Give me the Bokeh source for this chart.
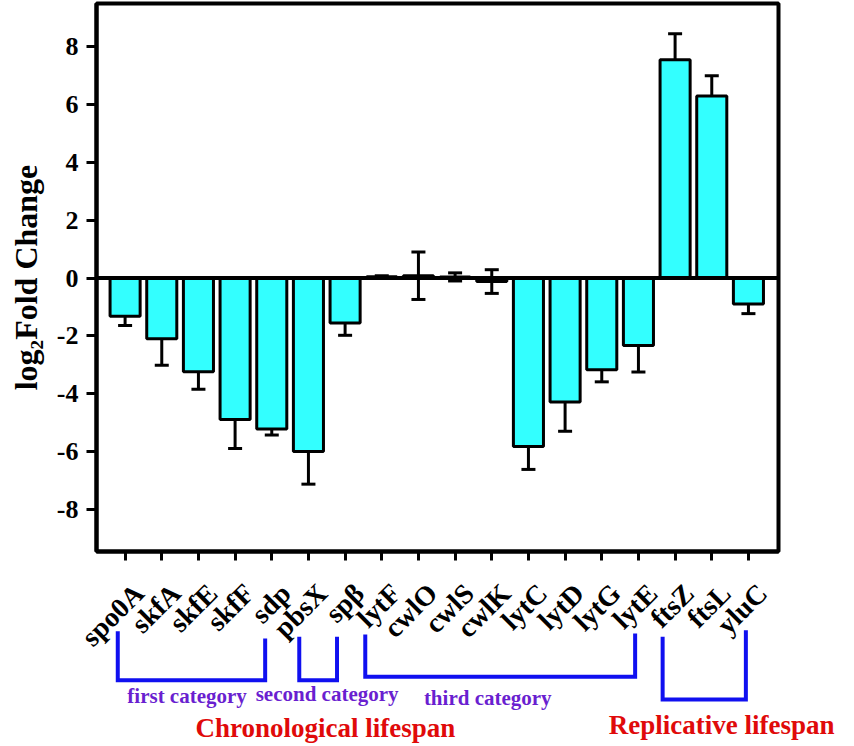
import math
from bokeh.plotting import figure
from bokeh.models import (ColumnDataSource, Range1d, FixedTicker, Whisker, TeeHead,
                          Span, LinearAxis)
from bokeh.core.properties import value
from bokeh.embed import file_html
from bokeh.resources import INLINE

# ---- data ----
genes = ["spo0A", "skfA", "skfE", "skfF", "sdp", "pbsX", "spβ", "lytF", "cwlO",
         "cwlS", "cwlK", "lytC", "lytD", "lytG", "lytE", "ftsZ", "ftsL", "yluC"]
log2fc = [-1.32, -2.10, -3.24, -4.89, -5.22, -6.00, -1.55, 0.05, 0.08,
          0.04, -0.12, -5.83, -4.29, -3.17, -2.33, 7.55, 6.30, -0.90]
err = [0.32, 0.92, 0.61, 1.01, 0.21, 1.13, 0.43, 0.03, 0.82,
       0.14, 0.41, 0.79, 1.01, 0.42, 0.92, 0.90, 0.70, 0.33]
y_ticks = [-8, -6, -4, -2, 0, 2, 4, 6, 8]
y_tick_labels = ["-8", "-6", "-4", "-2", "0", "2", "4", "6", "8"]

category_names = ["first category", "second category", "third category"]
lifespan_names = ["Chronological lifespan", "Replicative lifespan"]

# ---- layout constants ----
FONT = "Liberation Serif"
CYAN = "#33FFFF"
BLUE = "#1010F0"
PURPLE = "#6A1FD0"
RED = "#E00A0A"

W = 838
H1 = 669
LEFT, RIGHT, TOP, BOTTOM = 96, 60, 3, 118
X0, X1 = -0.78, 17.82
Y0, Y1 = -9.46, 9.50
LABEL_SHIFT_PX = 14

idx = list(range(len(genes)))
src = ColumnDataSource(dict(
    x=idx, top=log2fc,
    upper=[v + e for v, e in zip(log2fc, err)],
    lower=[v - e for v, e in zip(log2fc, err)],
))

units_per_px = (X1 - X0) / (W - LEFT - RIGHT)
shift = LABEL_SHIFT_PX * units_per_px

p = figure(width=W, height=H1, output_backend="svg", toolbar_location=None,
           x_range=Range1d(X0, X1), y_range=Range1d(Y0, Y1),
           min_border_left=LEFT, min_border_top=TOP, min_border_right=RIGHT,
           min_border_bottom=BOTTOM)
p.extra_x_ranges = {"labels": Range1d(X0 - shift, X1 - shift)}
p.background_fill_color = "white"
p.border_fill_color = "white"
p.outline_line_color = "black"
p.outline_line_width = 4
p.xgrid.visible = False
p.ygrid.visible = False

p.vbar(x="x", top="top", bottom=0, width=0.82, source=src,
       fill_color=CYAN, line_color="black", line_width=3)

p.add_layout(Span(location=0, dimension="width", line_color="black", line_width=4))

p.add_layout(Whisker(base="x", upper="upper", lower="lower", source=src,
                     line_color="black", line_width=3,
                     upper_head=TeeHead(size=14, line_width=3, line_color="black"),
                     lower_head=TeeHead(size=14, line_width=3, line_color="black")))

# y axis
ya = p.yaxis[0]
ya.ticker = FixedTicker(ticks=y_ticks)
ya.major_label_overrides = dict(zip(y_ticks, y_tick_labels))
ya.axis_label = "log₂Fold Change"
ya.axis_label_text_font = FONT
ya.axis_label_text_font_style = "bold"
ya.axis_label_text_font_size = "32px"
ya.axis_label_text_color = "black"
ya.axis_label_standoff = 10
ya.major_label_text_font = FONT
ya.major_label_text_font_style = "bold"
ya.major_label_text_font_size = "26px"
ya.major_label_text_color = "black"
ya.major_label_standoff = 8
ya.major_tick_out = 10
ya.major_tick_in = 0
ya.major_tick_line_width = 3
ya.minor_tick_line_color = None
ya.axis_line_width = 4

# x axis: tick marks at bar centres
xa = p.xaxis[0]
xa.ticker = FixedTicker(ticks=idx)
xa.major_label_overrides = {i: "" for i in idx}
xa.major_label_text_font_size = "1px"
xa.major_label_standoff = 0
xa.major_tick_out = 9
xa.major_tick_in = 0
xa.major_tick_line_width = 3
xa.minor_tick_line_color = None
xa.axis_line_width = 4

# x axis: gene names (slanted, set slightly right of the ticks)
xl = LinearAxis(x_range_name="labels", ticker=FixedTicker(ticks=idx),
                major_label_overrides={i: g for i, g in enumerate(genes)},
                major_label_orientation=math.pi / 4,
                major_label_text_font=FONT, major_label_text_font_style="bold",
                major_label_text_font_size="28px", major_label_text_color="black",
                major_label_standoff=22, major_tick_line_color=None,
                minor_tick_line_color=None, axis_line_color=None)
p.add_layout(xl, "below")

# ---- brackets / group captions underneath (second root, pulled up) ----
H2 = 121
x0b = X0 - LEFT * units_per_px
x1b = X1 + RIGHT * units_per_px
q = figure(width=W, height=H2, output_backend="svg", toolbar_location=None,
           x_range=Range1d(x0b, x1b), y_range=Range1d(H2, 0),
           x_axis_location=None, y_axis_location=None,
           min_border_left=0, min_border_right=0, min_border_top=0, min_border_bottom=0,
           margin=(-45, 0, 0, 0))
q.outline_line_color = None
q.background_fill_color = None
q.border_fill_color = None
q.xgrid.visible = False
q.ygrid.visible = False

# bracket geometry (x in category units, y in px from top of this strip)
br_left = [-0.20, 4.75, 6.55, 14.66]
br_right = [3.82, 5.78, 13.91, 16.93]
br_top_l = [6.7, 12.3, 10.0, 12.3]
br_top_r = [14.0, 12.3, 9.0, 5.7]
br_bottom = [55.7, 55.7, 52.3, 75.0]
q.multi_line(xs=[[a, a, b, b] for a, b in zip(br_left, br_right)],
             ys=[[t1, bt, bt, t2] for t1, t2, bt in zip(br_top_l, br_top_r, br_bottom)],
             line_color=BLUE, line_width=4, line_join="miter")

q.text(x=[1.69, 5.51, 9.89], y=[71.7, 69.0, 73.0], text=category_names,
       text_align="center", text_baseline="middle", text_font=value(FONT),
       text_font_style="bold", text_font_size="21px", text_color=PURPLE)
q.text(x=[5.46, 16.27], y=[103.0, 100.0], text=lifespan_names,
       text_align="center", text_baseline="middle", text_font=value(FONT),
       text_font_style="bold", text_font_size="27px", text_color=RED)

open("out.html", "w").write(file_html([p, q], INLINE))
